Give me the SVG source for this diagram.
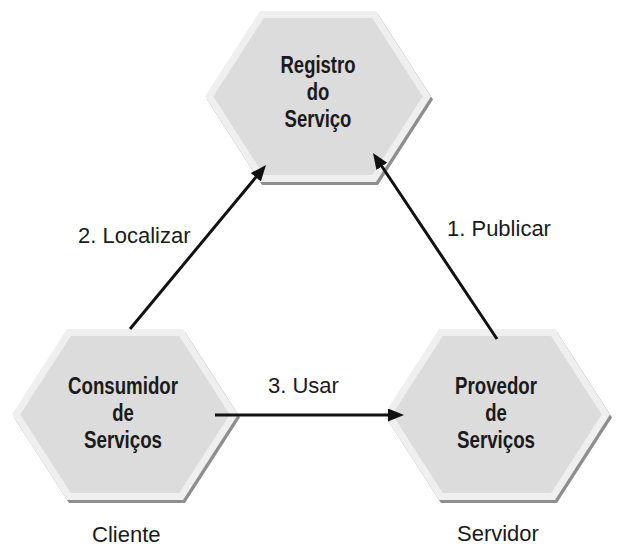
<svg xmlns="http://www.w3.org/2000/svg" xmlns:xlink="http://www.w3.org/1999/xlink" width="618" height="548" viewBox="0 0 618 548">
<style>
.shadow{fill:#8e8e8e}
.outer{fill:#efefef}
.inner{fill:#dcdcdc}
.nt{font-family:"Liberation Sans",Arial,sans-serif;font-weight:bold;font-size:23px;fill:#1a1a1a;text-anchor:middle}
.lb{font-family:"Liberation Sans",Arial,sans-serif;font-size:22px;fill:#1a1a1a}
.conn{stroke:#111;stroke-width:3;fill:none}
</style>
<defs>
<g id="hex">
<polygon class="shadow" points="-111,3 -56,88.5 60,88.5 115,3 60,-82.5 -56,-82.5"/>
<polygon class="outer" points="-113,0 -58,-85.5 58,-85.5 113,0 58,85.5 -58,85.5"/>
<polygon class="inner" points="-104.7,0 -54.2,-78.5 54.2,-78.5 104.7,0 54.2,78.5 -54.2,78.5"/>
</g>
<marker id="ah" markerUnits="userSpaceOnUse" markerWidth="18" markerHeight="14" refX="10" refY="6.5" orient="auto">
<path d="M0,0 L16,6.5 L0,13 z" fill="#111"/>
</marker>
</defs>
<g id="registro">
<use xlink:href="#hex" href="#hex" transform="translate(318,96.5)"/>
<text class="nt" x="318" y="73" textLength="75" lengthAdjust="spacingAndGlyphs">Registro</text>
<text class="nt" x="318" y="100" textLength="22.6" lengthAdjust="spacingAndGlyphs">do</text>
<text class="nt" x="318" y="127" textLength="66.8" lengthAdjust="spacingAndGlyphs">Serviço</text>
</g>
<g id="consumidor">
<use xlink:href="#hex" href="#hex" transform="translate(125,414.5)"/>
<text class="nt" x="123" y="394" textLength="110" lengthAdjust="spacingAndGlyphs">Consumidor</text>
<text class="nt" x="123" y="421" textLength="21.6" lengthAdjust="spacingAndGlyphs">de</text>
<text class="nt" x="123" y="448" textLength="78" lengthAdjust="spacingAndGlyphs">Serviços</text>
</g>
<g id="provedor">
<use xlink:href="#hex" href="#hex" transform="translate(497,414.5)"/>
<text class="nt" x="496" y="394" textLength="82" lengthAdjust="spacingAndGlyphs">Provedor</text>
<text class="nt" x="496" y="421" textLength="21.6" lengthAdjust="spacingAndGlyphs">de</text>
<text class="nt" x="496" y="448" textLength="78" lengthAdjust="spacingAndGlyphs">Serviços</text>
</g>
<g id="connectors">
<path class="conn" d="M130,329 L262.2,169.6" marker-end="url(#ah)"/>
<path class="conn" d="M497,339 L376.3,158" marker-end="url(#ah)"/>
<path class="conn" d="M215,415 L398,415" marker-end="url(#ah)"/>
</g>
<g id="labels">
<text class="lb" x="78" y="243">2. Localizar</text>
<text class="lb" x="447" y="236">1. Publicar</text>
<text class="lb" x="268" y="393">3. Usar</text>
<text class="lb" x="92" y="542">Cliente</text>
<text class="lb" x="457" y="541">Servidor</text>
</g>
</svg>
